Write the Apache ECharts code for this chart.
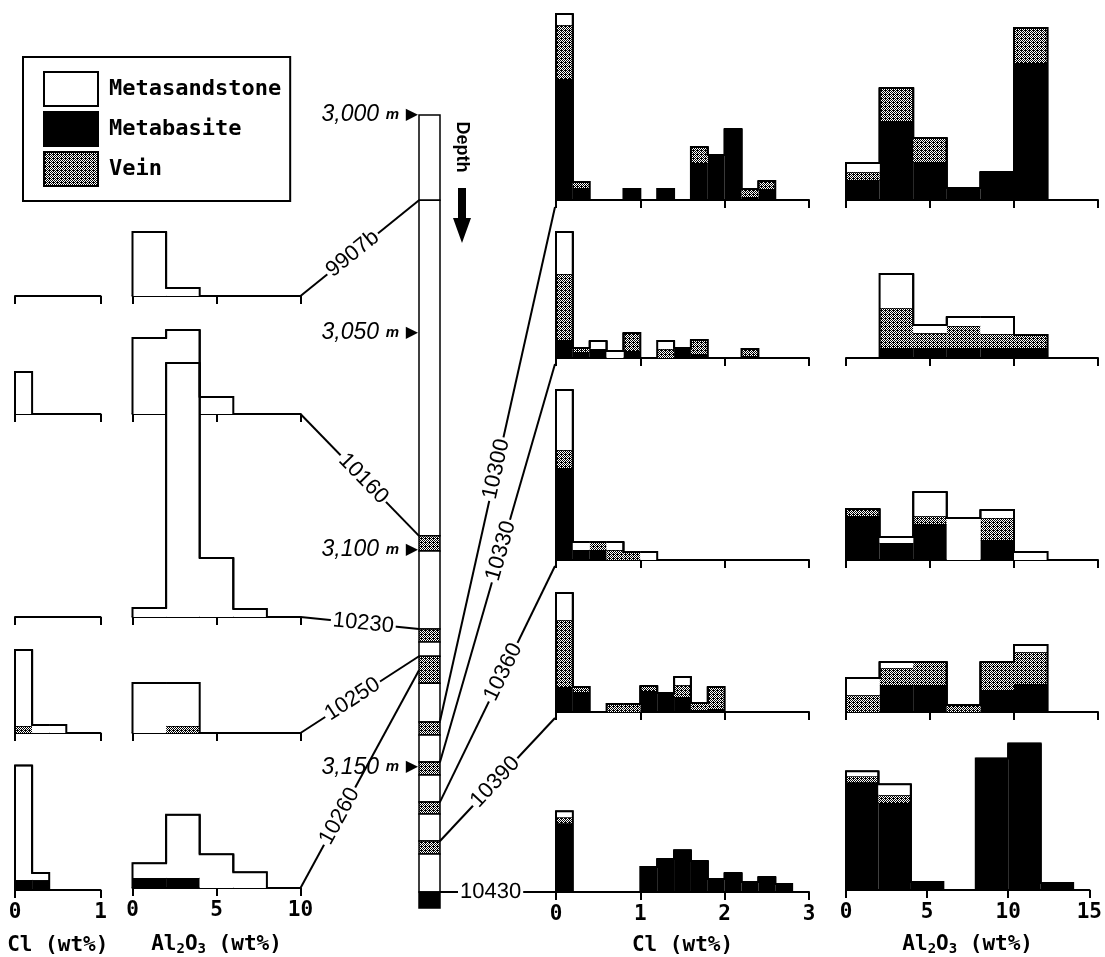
<!DOCTYPE html>
<html><head><meta charset="utf-8">
<script src="https://cdn.jsdelivr.net/npm/echarts@6/dist/echarts.min.js"></script>
<style>html,body{margin:0;padding:0;background:#fff}#c{width:1105px;height:957px}</style>
</head><body><div id="c"></div>
<script>
// ================= DATA =================
// stacking order, bottom -> top
const lithologies = ['Metabasite', 'Vein', 'Metasandstone'];
const legendOrder = ['Metasandstone', 'Metabasite', 'Vein'];

// tick labels of the axes
const clTicksLeft  = [0, 1];
const alTicksLeft  = [0, 5, 10];
const clTicksRight = [0, 1, 2, 3];
const alTicksRight = [0, 5, 10, 15];
const depthTicks   = [3000, 3050, 3100, 3150];
const clBinWidth = 0.2;   // wt%
const alBinWidth = 2;     // wt%

// histogram bins: [bin start, Metabasite, Vein, Metasandstone] (frequency, arbitrary units)
const leftCl = [
  [],
  [[0, 0, 0, 42]],
  [],
  [[0, 0, 7, 76], [0.2, 0, 0, 8], [0.4, 0, 0, 8]],
  [[0, 10, 0, 115], [0.2, 10, 0, 7]]
];
const leftAl = [
  [[0, 0, 0, 64], [2, 0, 0, 8]],
  [[0, 0, 0, 76], [2, 0, 0, 84], [4, 0, 0, 17]],
  [[0, 0, 0, 9], [2, 0, 0, 254], [4, 0, 0, 59], [6, 0, 0, 8]],
  [[0, 0, 0, 50], [2, 0, 7, 43]],
  [[0, 10, 0, 15], [2, 10, 0, 64], [4, 0, 0, 34], [6, 0, 0, 16]]
];
const rightCl = [
  [[0, 121, 54, 11], [0.2, 12, 6, 0], [0.8, 11, 0, 0], [1.2, 11, 0, 0], [1.6, 37, 16, 0], [1.8, 45, 0, 0], [2.0, 71, 0, 0], [2.2, 3, 8, 0], [2.4, 11, 8, 0]],
  [[0, 18, 66, 42], [0.2, 6, 4, 0], [0.4, 9, 0, 8], [0.6, 0, 0, 7], [0.8, 7, 18, 0], [1.2, 0, 9, 8], [1.4, 10, 0, 0], [1.6, 4, 14, 0], [2.2, 2, 7, 0]],
  [[0, 92, 18, 60], [0.2, 10, 0, 8], [0.4, 10, 8, 0], [0.6, 0, 10, 8], [0.8, 0, 8, 0], [1.0, 0, 0, 8]],
  [[0, 25, 67, 27], [0.2, 20, 5, 0], [0.6, 0, 8, 0], [0.8, 0, 8, 0], [1.0, 21, 5, 0], [1.2, 19, 0, 0], [1.4, 15, 12, 8], [1.6, 2, 7, 0], [1.8, 3, 22, 0]],
  [[0, 69, 6, 6], [1.0, 25, 0, 0], [1.2, 33, 0, 0], [1.4, 42, 0, 0], [1.6, 31, 0, 0], [1.8, 13, 0, 0], [2.0, 19, 0, 0], [2.2, 10, 0, 0], [2.4, 15, 0, 0], [2.6, 8, 0, 0]]
];
const rightAl = [
  [[0, 20, 8, 9], [2, 79, 33, 0], [4, 38, 24, 0], [6, 12, 0, 0], [8, 28, 0, 0], [10, 137, 35, 0]],
  [[2, 10, 40, 34], [4, 10, 15, 8], [6, 10, 22, 9], [8, 10, 14, 17], [10, 10, 13, 0]],
  [[0, 44, 7, 0], [2, 17, 0, 6], [4, 36, 8, 24], [6, 0, 0, 42], [8, 20, 22, 8], [10, 0, 0, 8]],
  [[0, 0, 17, 17], [2, 27, 17, 6], [4, 27, 23, 0], [6, 0, 7, 0], [8, 22, 28, 0], [10, 28, 32, 7]],
  [[0, 109, 6, 5], [2, 88, 8, 11], [4, 8, 0, 0], [8, 133, 0, 0], [10, 148, 0, 0], [12, 7, 0, 0]]
];

// drill core log: [top depth m, bottom depth m, lithology]
const coreSegments = [
  [3000, 3019.6, 'Metasandstone'], [3019.6, 3096.8, 'Metasandstone'], [3096.8, 3100.3, 'Vein'],
  [3100.3, 3118.2, 'Metasandstone'], [3118.2, 3121.2, 'Vein'], [3121.2, 3124.5, 'Metasandstone'],
  [3124.5, 3130.7, 'Vein'], [3130.7, 3139.6, 'Metasandstone'], [3139.6, 3142.6, 'Vein'],
  [3142.6, 3148.8, 'Metasandstone'], [3148.8, 3151.8, 'Vein'], [3151.8, 3158.0, 'Metasandstone'],
  [3158.0, 3160.8, 'Vein'], [3160.8, 3167.0, 'Metasandstone'], [3167.0, 3170.0, 'Vein'],
  [3170.0, 3178.7, 'Metasandstone'], [3178.7, 3182.4, 'Metabasite']
];
const coreBottom = 3182.4;
const samplesLeft = ['9907b', '10160', '10230', '10250', '10260'];
const sampleDepthLeft = [3019.6, 3096.8, 3118.2, 3124.5, 3127.7];
const samplesRight = ['10300', '10330', '10360', '10390', '10430'];
const sampleDepthRight = [3139.4, 3148.8, 3158.0, 3167.0, 3178.7];

// ================= RENDER =================
const veinCanvas = (function () {
  const c = document.createElement('canvas'); c.width = 4; c.height = 4;
  const g = c.getContext('2d'); g.fillStyle = '#fff'; g.fillRect(0, 0, 4, 4); g.fillStyle = '#000';
  for (let y = 0; y < 4; y++) for (let x = 0; x < 4; x++) if ((x + y) % 2 === 0 || (x === 1 && y === 2)) g.fillRect(x, y, 1, 1);
  return c;
})();
const FILL = { Metabasite: '#000', Vein: { image: veinCanvas, repeat: 'repeat' }, Metasandstone: '#fff' };
const MONO = '"DejaVu Sans Mono", "Liberation Mono", monospace';
const SANS = '"Liberation Sans", Arial, sans-serif';

const chart = echarts.init(document.getElementById('c'), null, { renderer: 'canvas' });
const grids = [], xAxes = [], yAxes = [], series = [];

const BASE_L = [296, 414, 617, 733, 891];
const BASE_R = [200, 358, 560, 712, 893];
const alName = 'Al{s|2}O{s|3} (wt%)';
const specs = [
  { key: 'lcl', data: leftCl, ticks: clTicksLeft, bw: clBinWidth, left: 15, width: 85.5, bases: BASE_L, name: 'Cl (wt%)', gap: 45 },
  { key: 'lal', data: leftAl, ticks: alTicksLeft, bw: alBinWidth, left: 132.5, width: 168, bases: BASE_L, name: alName, gap: 45 },
  { key: 'rcl', data: rightCl, ticks: clTicksRight, bw: clBinWidth, left: 556, width: 253, bases: BASE_R, name: 'Cl (wt%)', gap: 43 },
  { key: 'ral', data: rightAl, ticks: alTicksRight, bw: alBinWidth, left: 846, width: 252, bases: BASE_R, name: alName, gap: 43 }
];
const gridOf = {};

function layerRenderer(fill) {
  return function (params, api) {
    const p0 = api.coord([api.value(0), api.value(2)]);
    const p1 = api.coord([api.value(1), api.value(3)]);
    return {
      type: 'group', children: [
        { type: 'rect', shape: { x: p0[0], y: p1[1], width: p1[0] - p0[0], height: p0[1] - p1[1] }, style: { fill: fill } },
        { type: 'line', shape: { x1: p0[0], y1: p1[1], x2: p1[0], y2: p1[1] }, style: { stroke: '#000', lineWidth: 1.5 } }
      ]
    };
  };
}
function outlineRenderer(params, api) {
  const x0 = api.value(0), x1 = api.value(1), h = api.value(2), ph = api.value(3), nh = api.value(4);
  const pts = [api.coord([x0, ph]), api.coord([x0, h]), api.coord([x1, h]), api.coord([x1, nh])];
  return { type: 'polyline', shape: { points: pts }, style: { stroke: '#000', lineWidth: 2, fill: null } };
}

specs.forEach(function (sp) {
  gridOf[sp.key] = [];
  sp.bases.forEach(function (base, r) {
    const gi = grids.length; gridOf[sp.key].push(gi);
    const H = Math.min(280, base - 4);
    grids.push({ left: sp.left, top: base - H, width: sp.width, height: H });
    xAxes.push({
      type: 'value', gridIndex: gi, min: sp.ticks[0], max: sp.ticks[sp.ticks.length - 1], interval: sp.ticks[1] - sp.ticks[0],
      axisLine: { show: true, onZero: false, lineStyle: { color: '#000', width: 2 } },
      axisTick: { show: true, length: 8, lineStyle: { color: '#000', width: 2 } },
      splitLine: { show: false },
      axisLabel: { show: r === 4, margin: 12, color: '#000', fontFamily: MONO, fontWeight: 'bold', fontSize: 21 },
      name: r === 4 ? sp.name : '', nameLocation: 'middle', nameGap: sp.gap,
      nameTextStyle: { color: '#000', fontFamily: MONO, fontWeight: 'bold', fontSize: 21,
        rich: { s: { fontFamily: MONO, fontWeight: 'bold', fontSize: 14, padding: [9, 0, 0, 0], color: '#000' } } }
    });
    yAxes.push({ type: 'value', gridIndex: gi, min: 0, max: H, show: false });

    const bins = sp.data[r].slice().sort(function (a, b) { return a[0] - b[0]; });
    const layers = { Metabasite: [], Vein: [], Metasandstone: [] };
    const totals = [];
    bins.forEach(function (b) {
      let acc = 0;
      lithologies.forEach(function (l, k) {
        const v = b[k + 1];
        if (v > 0) { layers[l].push([b[0], b[0] + sp.bw, acc, acc + v]); acc += v; }
      });
      totals.push([b[0], b[0] + sp.bw, acc]);
    });
    lithologies.forEach(function (l) {
      series.push({ type: 'custom', name: l, xAxisIndex: gi, yAxisIndex: gi, itemStyle: { color: FILL[l] },
        renderItem: layerRenderer(FILL[l]), data: layers[l], encode: { x: [0, 1], y: [2, 3] }, silent: true, z: 3 });
    });
    const outline = totals.map(function (t) {
      const prev = totals.find(function (q) { return Math.abs(q[1] - t[0]) < 1e-6; });
      const next = totals.find(function (q) { return Math.abs(q[0] - t[1]) < 1e-6; });
      return [t[0], t[1], t[2], prev ? prev[2] : 0, next ? next[2] : 0];
    });
    series.push({ type: 'custom', name: 'outline', xAxisIndex: gi, yAxisIndex: gi, renderItem: outlineRenderer,
      data: outline, encode: { x: [0, 1], y: [2] }, silent: true, z: 4 });
  });
});

// drill core column
const coreGrid = grids.length;
grids.push({ left: 419, top: 115, width: 21, height: 793 });
xAxes.push({ type: 'value', gridIndex: coreGrid, min: 0, max: 1, show: false });
yAxes.push({
  type: 'value', gridIndex: coreGrid, inverse: true, min: depthTicks[0], max: coreBottom, interval: depthTicks[1] - depthTicks[0],
  axisLine: { show: false }, axisTick: { show: false }, splitLine: { show: false }, z: 20,
  axisLabel: {
    show: true, margin: 1, showMaxLabel: false,
    formatter: function (v) {
      if (depthTicks.indexOf(v) < 0) return '';
      const s = String(v).replace(/\B(?=(\d{3})+(?!\d))/g, ',');
      return '{n|' + s + '}  {m|m}  {t|▶}';
    },
    rich: {
      n: { fontFamily: SANS, fontStyle: 'italic', fontSize: 23, color: '#000' },
      m: { fontFamily: SANS, fontStyle: 'italic', fontWeight: 'bold', fontSize: 15, color: '#000' },
      t: { fontFamily: '"DejaVu Sans"', fontSize: 16, color: '#000' }
    }
  }
});
series.push({
  type: 'custom', name: 'Core', xAxisIndex: coreGrid, yAxisIndex: coreGrid, silent: true, z: 3,
  data: coreSegments.map(function (s) { return [0, 1, s[0], s[1], lithologies.indexOf(s[2])]; }),
  encode: { x: [0, 1], y: [2, 3] },
  renderItem: function (params, api) {
    const a = api.coord([api.value(0), api.value(2)]);
    const b = api.coord([api.value(1), api.value(3)]);
    const fill = FILL[lithologies[api.value(4)]];
    return { type: 'rect', shape: { x: a[0], y: a[1], width: b[0] - a[0], height: b[1] - a[1] },
      style: { fill: fill, stroke: '#000', lineWidth: 1.5 } };
  }
});

chart.setOption({
  animation: false,
  backgroundColor: '#fff',
  grid: grids, xAxis: xAxes, yAxis: yAxes, series: series,
  legend: {
    data: legendOrder, left: 23, top: 57, orient: 'vertical', icon: 'rect', selectedMode: false,
    itemWidth: 54, itemHeight: 34, itemGap: 4, padding: [14, 9, 14, 20],
    borderColor: '#000', borderWidth: 2,
    itemStyle: { borderColor: '#000', borderWidth: 2 },
    textStyle: { fontFamily: MONO, fontWeight: 'bold', fontSize: 22, color: '#000', padding: [0, 0, 0, 6] }
  }
});

// connectors between the core log and the histograms
function px(gi, pt) { return chart.convertToPixel({ gridIndex: gi }, pt); }
const graphics = [];
function connector(a, b, text, t) {
  graphics.push({ type: 'line', z: 10, shape: { x1: a[0], y1: a[1], x2: b[0], y2: b[1] }, style: { stroke: '#000', lineWidth: 2 } });
  const rot = Math.atan2(a[1] - b[1], b[0] - a[0]);
  graphics.push({ type: 'text', z: 11, x: a[0] + t * (b[0] - a[0]), y: a[1] + t * (b[1] - a[1]), rotation: rot,
    style: { text: text, font: '22px ' + SANS, fill: '#000', align: 'center', verticalAlign: 'middle', backgroundColor: '#fff', padding: [0, 2] } });
}
const tLeft = [0.44, 0.53, 0.53, 0.44, 0.33];
samplesLeft.forEach(function (name, i) {
  const a = px(gridOf.lal[i], [alTicksLeft[alTicksLeft.length - 1], 0]);
  const b = px(coreGrid, [0, sampleDepthLeft[i]]);
  connector(a, b, name, tLeft[i]);
});
const tRight = [0.49, 0.53, 0.55, 0.48, 0.44];
const dyRight = [7, 6, 6, 6, 0];
samplesRight.forEach(function (name, i) {
  const a = px(coreGrid, [1, sampleDepthRight[i]]);
  const b = px(gridOf.rcl[i], [0, 0]);
  connector(a, [b[0] - 1, b[1] + dyRight[i]], name, tRight[i]);
});
// "Depth" annotation with arrow
graphics.push({ type: 'text', x: 462, y: 147, rotation: -Math.PI / 2,
  style: { text: 'Depth', font: 'bold 18px ' + SANS, fill: '#000', align: 'center', verticalAlign: 'middle' } });
graphics.push({ type: 'polygon', shape: { points: [[458, 188], [466, 188], [466, 218], [471, 218], [462, 243], [453, 218], [458, 218]] },
  style: { fill: '#000' } });
chart.setOption({ graphic: graphics });
</script></body></html>
